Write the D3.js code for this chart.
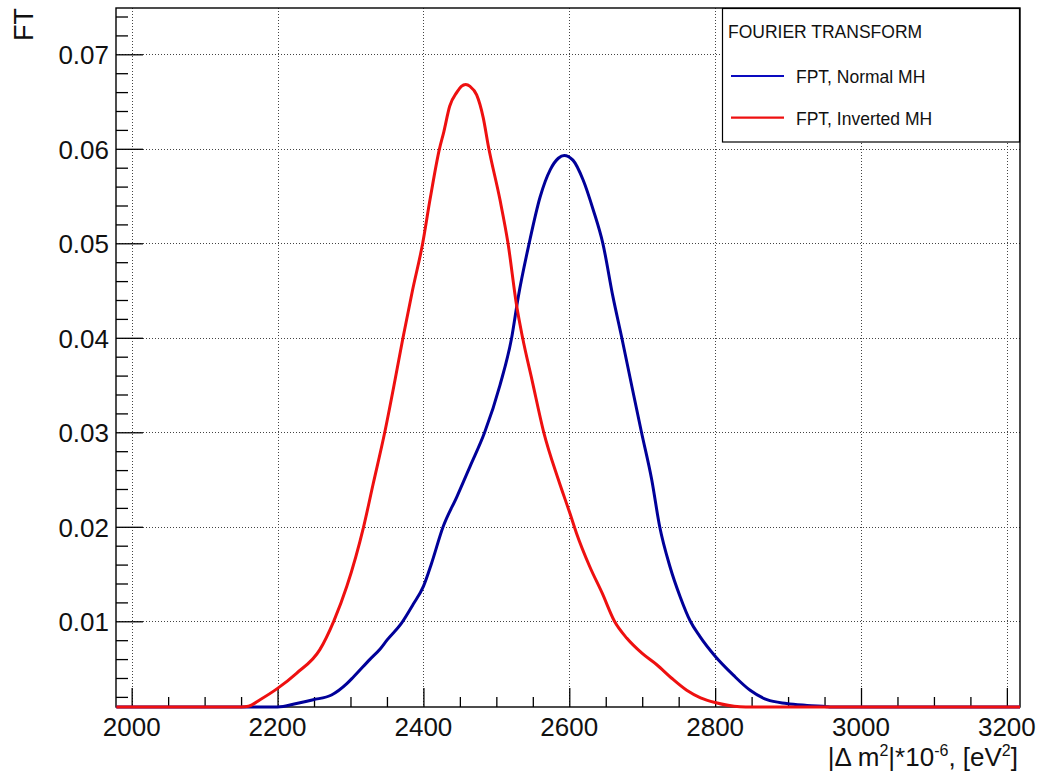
<!DOCTYPE html>
<html>
<head>
<meta charset="utf-8">
<script src="https://cdn.jsdelivr.net/npm/d3@7"></script>
<style>
  html, body { margin: 0; padding: 0; background: #fff; }
  svg { display: block; font-family: "Liberation Sans", Arial, Helvetica, sans-serif; }
</style>
</head>
<body>
<svg id="chart" width="1039" height="776"></svg>
<script>
// ---------- data ----------
const xTicks = [2000, 2200, 2400, 2600, 2800, 3000, 3200];
const xTickLabels = ["2000", "2200", "2400", "2600", "2800", "3000", "3200"];
const yTicks = [0.01, 0.02, 0.03, 0.04, 0.05, 0.06, 0.07];
const yTickLabels = ["0.01", "0.02", "0.03", "0.04", "0.05", "0.06", "0.07"];

const seriesNames = ["FPT, Normal MH", "FPT, Inverted MH"];
const legendHeader = "FOURIER TRANSFORM";

// Normal MH (blue)
const normalX = [1979, 2160, 2200, 2226, 2249, 2274, 2295, 2304, 2327, 2341, 2350, 2370, 2386, 2400, 2411, 2427, 2446, 2464, 2484, 2505, 2521, 2530, 2545, 2560, 2574, 2585, 2593, 2605, 2619, 2633, 2646, 2660, 2672, 2686, 2699, 2713, 2724, 2738, 2752, 2766, 2779, 2800, 2825, 2848, 2871, 2898, 2926, 2953, 2958, 3218];
const normalY = [0, 0, 0.0009, 0.0013, 0.0017, 0.0022, 0.0034, 0.0041, 0.0060, 0.0071, 0.0080, 0.0098, 0.0118, 0.0137, 0.0161, 0.0200, 0.0232, 0.0264, 0.0300, 0.0350, 0.0400, 0.0443, 0.0500, 0.0549, 0.0578, 0.0590, 0.0593, 0.0588, 0.0567, 0.0535, 0.0500, 0.0443, 0.0400, 0.0348, 0.0300, 0.0250, 0.0200, 0.0158, 0.0126, 0.0100, 0.0084, 0.0063, 0.0043, 0.0027, 0.0017, 0.0013, 0.0011, 0.00096, 0, 0];

// Inverted MH (red)
const invertedX = [1979, 2150, 2160, 2176, 2200, 2226, 2258, 2277, 2295, 2318, 2331, 2347, 2361, 2372, 2385, 2399, 2409, 2422, 2428, 2436, 2446, 2452, 2458, 2464, 2473, 2482, 2489, 2505, 2516, 2528, 2536, 2549, 2565, 2585, 2601, 2610, 2628, 2645, 2662, 2679, 2700, 2720, 2740, 2761, 2780, 2800, 2834, 2850, 3218];
const invertedY = [0, 0, 0.0010, 0.0017, 0.0029, 0.0045, 0.0070, 0.0100, 0.0137, 0.0200, 0.0245, 0.0300, 0.0355, 0.0400, 0.0450, 0.0500, 0.0546, 0.0600, 0.0618, 0.0645, 0.0660, 0.0666, 0.0668, 0.0666, 0.0657, 0.0633, 0.0603, 0.0546, 0.0500, 0.0433, 0.0400, 0.0355, 0.0300, 0.0250, 0.0214, 0.0193, 0.0158, 0.0130, 0.0100, 0.0082, 0.0066, 0.0054, 0.0040, 0.0027, 0.0019, 0.0014, 0.00096, 0, 0];

// ---------- layout ----------
const W = 1039, H = 776;
const frame = { left: 116, right: 1020, top: 8, bottom: 707 };
const xDomain = [1978.5, 3218];
const yDomain = [0.00093, 0.0749];
const blue = "#000099", red = "#ee1010";

const svg = d3.select("#chart");
svg.append("rect").attr("width", W).attr("height", H).attr("fill", "#fff");

const x = d3.scaleLinear().domain(xDomain).range([frame.left, frame.right]);
const y = d3.scaleLinear().domain(yDomain).range([frame.bottom, frame.top]).clamp(true);

// ---------- grid ----------
const grid = svg.append("g").attr("stroke", "#444").attr("stroke-width", 1).attr("stroke-dasharray", "1,2");
grid.selectAll("line.gx").data(xTicks).join("line")
  .attr("x1", d => Math.round(x(d)) + 0.5).attr("x2", d => Math.round(x(d)) + 0.5)
  .attr("y1", frame.top).attr("y2", frame.bottom);
grid.selectAll("line.gy").data(yTicks).join("line")
  .attr("y1", d => Math.round(y(d)) + 0.5).attr("y2", d => Math.round(y(d)) + 0.5)
  .attr("x1", frame.left).attr("x2", frame.right);

// ---------- axes (ticks inside) ----------
const xMinor = d3.range(2000, 3201, 50).filter(v => !xTicks.includes(v));
const yMinor = d3.range(1, 38).map(i => +(i * 0.002).toFixed(3)).filter(v => v < yDomain[1] && !yTicks.some(t => Math.abs(t - v) < 1e-9));

const xAxisMajor = d3.axisBottom(x).tickValues(xTicks).tickSize(-19).tickFormat("");
const xAxisMinor = d3.axisBottom(x).tickValues(xMinor).tickSize(-10).tickFormat("");
const yAxisMajor = d3.axisLeft(y).tickValues(yTicks).tickSize(-27).tickFormat("");
const yAxisMinor = d3.axisLeft(y).tickValues(yMinor).tickSize(-12).tickFormat("");

function styleAxis(g) {
  g.select(".domain").remove();
  g.selectAll(".tick line").attr("stroke", "#000").attr("stroke-width", 1.3);
}
svg.append("g").attr("transform", `translate(0,${frame.bottom})`).call(xAxisMajor).call(styleAxis);
svg.append("g").attr("transform", `translate(0,${frame.bottom})`).call(xAxisMinor).call(styleAxis);
svg.append("g").attr("transform", `translate(${frame.left},0)`).call(yAxisMajor).call(styleAxis);
svg.append("g").attr("transform", `translate(${frame.left},0)`).call(yAxisMinor).call(styleAxis);

// frame
svg.append("rect")
  .attr("x", frame.left).attr("y", frame.top)
  .attr("width", frame.right - frame.left).attr("height", frame.bottom - frame.top)
  .attr("fill", "none").attr("stroke", "#000").attr("stroke-width", 1.4);

// tick labels
svg.append("g").selectAll("text").data(xTicks).join("text")
  .attr("x", d => x(d)).attr("y", 736)
  .attr("text-anchor", "middle").attr("font-size", 26).attr("fill", "#111")
  .text((d, i) => xTickLabels[i]);
svg.append("g").selectAll("text").data(yTicks).join("text")
  .attr("x", 109).attr("y", d => y(d) + 10)
  .attr("text-anchor", "end").attr("font-size", 26).attr("fill", "#111")
  .text((d, i) => yTickLabels[i]);

// ---------- curves ----------
const line = d3.line().x(d => x(d[0])).y(d => y(d[1])).curve(d3.curveMonotoneX);
const normalData = normalX.map((v, i) => [v, normalY[i]]);
const invertedData = invertedX.map((v, i) => [v, invertedY[i]]);
svg.append("path").datum(normalData).attr("d", line)
  .attr("fill", "none").attr("stroke", blue).attr("stroke-width", 3).attr("stroke-linejoin", "round");
svg.append("path").datum(invertedData).attr("d", line)
  .attr("fill", "none").attr("stroke", red).attr("stroke-width", 3).attr("stroke-linejoin", "round");

// ---------- axis titles ----------
const xt = svg.append("text").attr("x", 1018).attr("y", 766)
  .attr("text-anchor", "end").attr("font-size", 26).attr("fill", "#111");
xt.append("tspan").text("|Δ m");
xt.append("tspan").attr("font-size", 16).attr("dy", -10).text("2");
xt.append("tspan").attr("dy", 10).text("|*10");
xt.append("tspan").attr("font-size", 16).attr("dy", -10).text("-6");
xt.append("tspan").attr("dy", 10).text(", [eV");
xt.append("tspan").attr("font-size", 16).attr("dy", -10).text("2");
xt.append("tspan").attr("dy", 10).text("]");

svg.append("text")
  .attr("transform", "translate(33,8) rotate(-90)")
  .attr("text-anchor", "end").attr("font-size", 27).attr("fill", "#111")
  .text("FT");

// ---------- legend ----------
const lg = svg.append("g");
lg.append("rect").attr("x", 722.5).attr("y", 8.5).attr("width", 297).attr("height", 133.5)
  .attr("fill", "#fff").attr("stroke", "#000").attr("stroke-width", 1.2);
lg.append("text").attr("x", 728).attr("y", 38).attr("font-size", 17.5).attr("fill", "#111").text(legendHeader);
const legendColors = [blue, red];
const legendRows = [76, 117.7];
seriesNames.forEach((name, i) => {
  lg.append("line").attr("x1", 731).attr("x2", 784).attr("y1", legendRows[i]).attr("y2", legendRows[i])
    .attr("stroke", i === 0 ? "#0a0ac0" : red).attr("stroke-width", 2.2);
  lg.append("text").attr("x", 796).attr("y", legendRows[i] + 7).attr("font-size", 17.5).attr("fill", "#111").text(name);
});
</script>
</body>
</html>
